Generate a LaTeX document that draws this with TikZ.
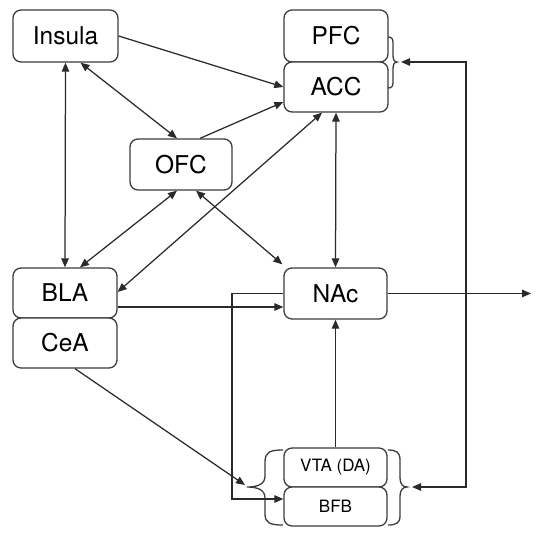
\documentclass[tikz,border=0pt]{standalone}
\usepackage{fontspec}
\setmainfont{TeX Gyre Heros}
\usetikzlibrary{arrows.meta,calc}
\definecolor{ln}{HTML}{2A2A2A}
\definecolor{bx}{HTML}{3C3C3C}
\begin{document}
\begin{tikzpicture}[x=1pt,y=-1pt,
  region/.style={draw=bx,line width=1.3pt,rounded corners=8pt,fill=white,inner sep=0pt,font=\fontsize{24.5}{26}\selectfont},
  small/.style={region,font=\fontsize{17}{19}\selectfont},
  conn/.style={draw=ln,line width=1.25pt},
  tip/.style={-{Triangle[length=9pt,width=7.5pt]}},
  btip/.style={{Triangle[length=9pt,width=7.5pt]}-{Triangle[length=9pt,width=7.5pt]}},
  bracepath/.style={draw=bx,line width=1.3pt}]
\useasboundingbox (0,0) rectangle (540,536);
% boxes
\node[region,minimum width=105pt,minimum height=52pt] (Insula) at (65.5,36) {Insula};
\node[region,minimum width=104pt,minimum height=52pt] (PFC) at (336,36) {PFC};
\node[region,minimum width=104pt,minimum height=50pt] (ACC) at (336,87) {ACC};
\node[region,minimum width=102pt,minimum height=51pt] (OFC) at (181,164.5) {OFC};
\node[region,minimum width=104pt,minimum height=50pt] (BLA) at (65,293) {BLA};
\node[region,minimum width=104pt,minimum height=50pt] (CeA) at (65,343) {CeA};
\node[region,minimum width=103pt,minimum height=51pt] (NAc) at (335.5,293.5) {NAc};
\node[small,minimum width=103pt,minimum height=39pt] (VTA) at (335.5,467.5) {VTA (DA)};
\node[small,minimum width=103pt,minimum height=39pt] (BFB) at (335.5,506.5) {BFB};
% braces
\draw[bracepath] (388,37) .. controls (392,37) and (393,39) .. (393,43) -- (393,55) .. controls (393,59) and (394,62) .. (397,62) .. controls (394,62) and (393,65) .. (393,69) -- (393,82) .. controls (393,86) and (392,88) .. (388,88);
\draw[bracepath] (388,450) .. controls (396,450) and (400,452) .. (400,460) -- (400,478) .. controls (400,484) and (403,487) .. (407,487) .. controls (403,487) and (400,490) .. (400,496) -- (400,516) .. controls (400,523) and (396,525) .. (388,525);
\draw[bracepath] (283,450) .. controls (270,450) and (265,452) .. (265,462) -- (265,476) .. controls (265,484) and (258,487) .. (247,487) .. controls (258,487) and (265,490) .. (265,498) -- (265,514) .. controls (265,523) and (270,525) .. (283,525);
% coordinates
\coordinate (pbtip) at (401,62);
\coordinate (rbtip) at (412,487);
\coordinate (lbtip) at (245,485);
\coordinate (rc1) at (466,62);
\coordinate (rc2) at (466,487);
\coordinate (out) at (531,293.5);
\coordinate (lc1) at (232,293.5);
% connectors
\draw[conn,btip] (Insula.south) -- (BLA.north);
\draw[conn,btip] ($(Insula.south)+(15,0)$) -- ($(OFC.north)+(-4,0)$);
\draw[conn,tip] (Insula.east) -- (ACC.west);
\draw[conn,tip] ($(OFC.north)+(19,0)$) -- ($(ACC.west)+(0,15)$);
\draw[conn,btip] ($(OFC.south)+(-4,0)$) -- ($(BLA.north)+(15,0)$);
\draw[conn,btip] ($(BLA.east)+(0,-1)$) -- ($(ACC.south)+(-14,0)$);
\draw[conn,btip] ($(OFC.south)+(15,0)$) -- ($(NAc.north west)+(-1,-3)$);
\draw[conn,btip] (ACC.south) -- (NAc.north);
\draw[conn,tip] ($(BLA.east)+(0,14)$) -- ($(NAc.west)+(0,13.5)$);
\draw[conn,tip] (NAc.east) -- (out);
\draw[conn,tip] (NAc.west) -- (lc1) |- ($(BFB.west)+(0,-7.5)$);
\draw[conn,tip] (VTA.north) -- (NAc.south);
\draw[conn,tip] ($(CeA.south)+(10,0)$) -- (lbtip);
\draw[conn,btip] (pbtip) -- (rc1) -- (rc2) -- (rbtip);
\end{tikzpicture}
\end{document}
